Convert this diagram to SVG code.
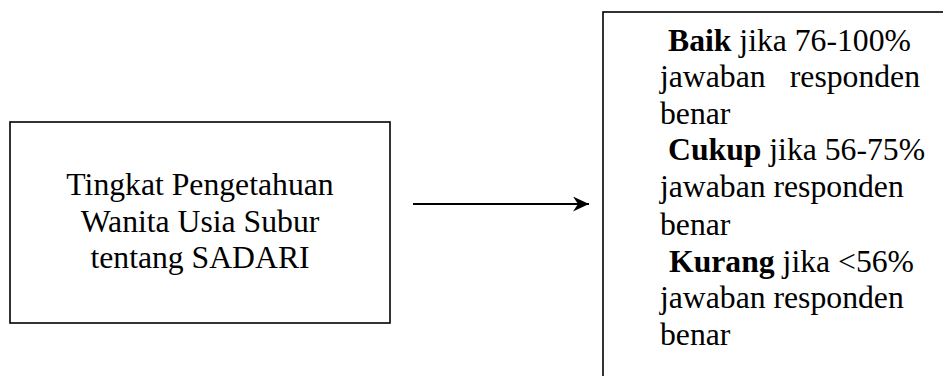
<svg xmlns="http://www.w3.org/2000/svg" width="943" height="376" viewBox="0 0 943 376">
<style>
.box{fill:#fff;stroke:#000;stroke-width:1.6}
.t{font-family:"Liberation Serif","Times New Roman",serif;font-size:31.7px;fill:#000}
.b{font-weight:bold}
.c{text-anchor:middle}
</style>
<defs>
<marker id="ah" markerWidth="18" markerHeight="16" refX="16" refY="7.5" orient="auto" markerUnits="userSpaceOnUse">
<path d="M0,0 L16,7.5 L0,15 L5,7.5 Z" fill="#000"/>
</marker>
</defs>
<rect width="943" height="376" fill="#fff"/>
<g id="node-left">
<rect class="box" x="10" y="122" width="380" height="201"/>
<text class="t c" x="200" y="195">Tingkat Pengetahuan</text>
<text class="t c" x="200" y="231.5">Wanita Usia Subur</text>
<text class="t c" x="200" y="268">tentang SADARI</text>
</g>
<g id="node-right">
<rect class="box" x="603" y="12" width="360" height="380"/>
<text class="t" x="668" y="51"><tspan class="b">Baik</tspan> jika 76-100%</text>
<text class="t" x="660" y="87">jawaban</text>
<text class="t" x="920" y="87" text-anchor="end">responden</text>
<text class="t" x="660" y="123.5">benar</text>
<text class="t" x="668" y="160"><tspan class="b">Cukup</tspan> jika 56-75%</text>
<text class="t" x="660" y="197">jawaban responden</text>
<text class="t" x="660" y="234.5">benar</text>
<text class="t" x="669" y="271.5"><tspan class="b">Kurang</tspan> jika &lt;56%</text>
<text class="t" x="660" y="308">jawaban responden</text>
<text class="t" x="660" y="345">benar</text>
</g>
<g id="connectors">
<line x1="413" y1="204" x2="589" y2="204" stroke="#000" stroke-width="2" marker-end="url(#ah)"/>
</g>
</svg>
